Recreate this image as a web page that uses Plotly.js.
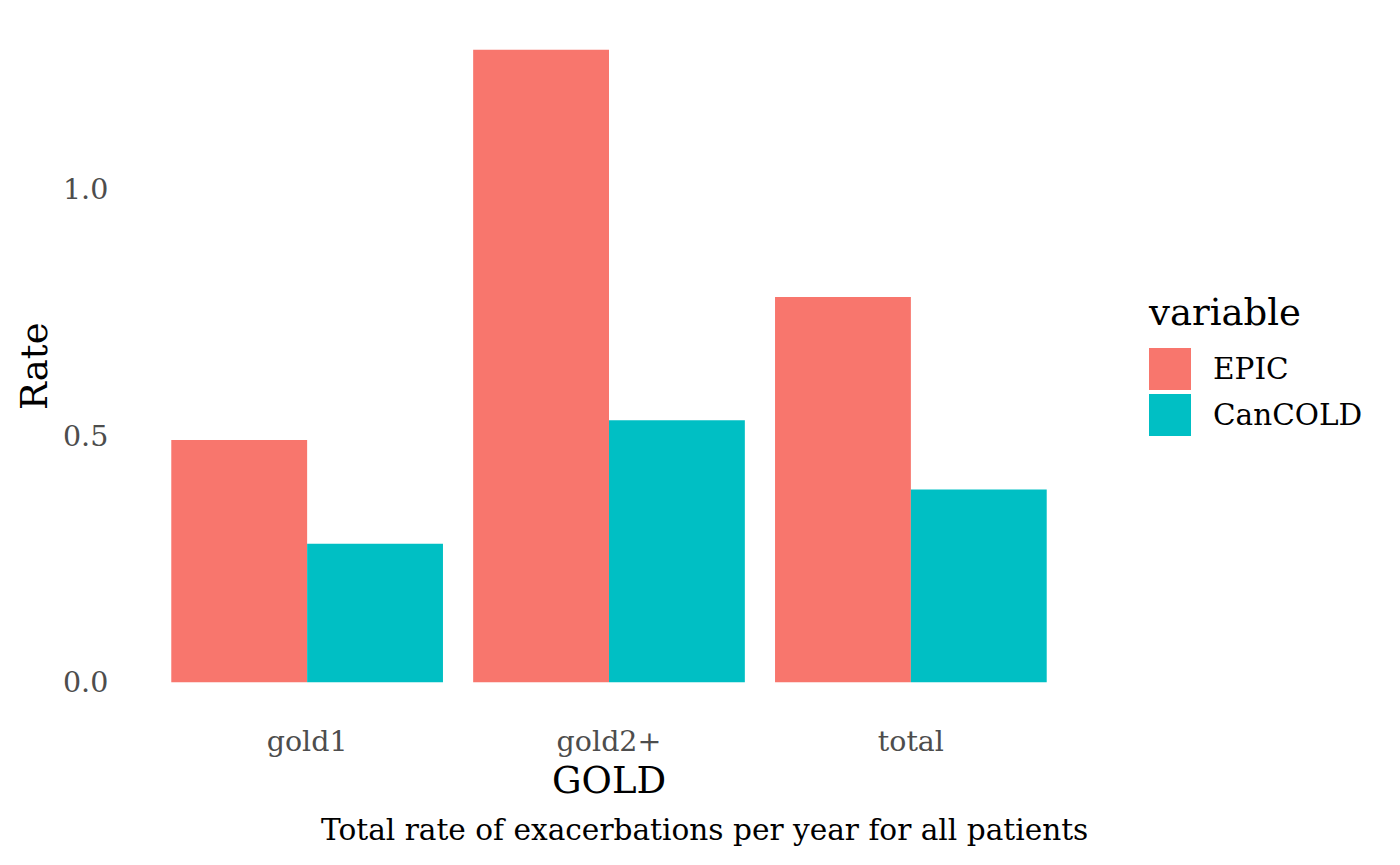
<!DOCTYPE html>
<html>
<head>
<meta charset="utf-8">
<script src="https://cdn.plot.ly/plotly-3.0.1.min.js"></script>
<style>html,body{margin:0;padding:0;background:#fff;}</style>
</head>
<body>
<div id="chart" style="width:1400px;height:865px;"></div>
<script>
// ---- data ----
const categories = ["gold1", "gold2+", "total"];
const seriesNames = ["EPIC", "CanCOLD"];
const epicValues = [0.491, 1.282, 0.781];
const cancoldValues = [0.281, 0.531, 0.391];
const seriesColors = ["#F8766D", "#00BFC4"];
const yTickVals = [0, 0.5, 1.0];
const xTitle = "GOLD";
const yTitle = "Rate";
const legendTitle = "variable";
const caption = "Total rate of exacerbations per year for all patients";

// ---- layout geometry (pixels) ----
const W = 1400, H = 865;
const L = 126, R = 1092, T = 18, B = 714;
const FONT = "DejaVu Serif, serif";
const pxX = px => (px - L) / (R - L);
const pxY = py => (B - py) / (B - T);

const seriesValues = [epicValues, cancoldValues];
const traces = seriesNames.map((name, i) => ({
  type: "bar",
  name: name,
  x: categories,
  y: seriesValues[i],
  marker: { color: seriesColors[i], line: { width: 0 } },
  showlegend: false,
  hoverinfo: "x+y+name"
}));

const maxVal = Math.max(...epicValues, ...cancoldValues);
const yRange = [-0.05 * maxVal, 1.05 * maxVal];

const shapes = [];
const annotations = [];

// manual legend (ggplot-like large keys)
annotations.push({
  xref: "paper", yref: "paper", x: pxX(1146), y: pxY(312),
  xanchor: "left", yanchor: "middle", showarrow: false,
  text: legendTitle, font: { family: FONT, size: 37, color: "#000" }
});
seriesNames.forEach((name, i) => {
  const top = 348 + i * 46, bot = top + 42;
  shapes.push({
    type: "rect", xref: "paper", yref: "paper",
    x0: pxX(1149), x1: pxX(1191), y0: pxY(bot), y1: pxY(top),
    fillcolor: seriesColors[i], line: { width: 0 }
  });
  annotations.push({
    xref: "paper", yref: "paper", x: pxX(1211), y: pxY((top + bot) / 2),
    xanchor: "left", yanchor: "middle", showarrow: false,
    text: name, font: { family: FONT, size: 29.5, color: "#000" }
  });
});

// axis titles & caption
annotations.push({
  xref: "paper", yref: "paper", x: 0.5, y: pxY(780),
  xanchor: "center", yanchor: "middle", showarrow: false,
  text: xTitle, font: { family: FONT, size: 37, color: "#000" }
});
annotations.push({
  xref: "paper", yref: "paper", x: pxX(34), y: 0.5,
  xanchor: "center", yanchor: "middle", showarrow: false, textangle: -90,
  text: yTitle, font: { family: FONT, size: 37, color: "#000" }
});
annotations.push({
  xref: "paper", yref: "paper", x: pxX(704), y: pxY(830),
  xanchor: "center", yanchor: "middle", showarrow: false,
  text: caption, font: { family: FONT, size: 29.6, color: "#000" }
});

const layout = {
  width: W, height: H, autosize: false,
  margin: { l: L, r: W - R, t: T, b: H - B, pad: 0 },
  paper_bgcolor: "#fff", plot_bgcolor: "#fff",
  barmode: "group", bargap: 0.1, bargroupgap: 0,
  font: { family: FONT },
  showlegend: false,
  xaxis: {
    type: "category", range: [-0.6, 2.6],
    showgrid: false, zeroline: false, showline: false,
    ticks: "outside", ticklen: 2, tickcolor: "rgba(0,0,0,0)",
    tickfont: { family: FONT, size: 28.5, color: "#4D4D4D" },
    fixedrange: true
  },
  yaxis: {
    range: yRange, tickvals: yTickVals, tickformat: ".1f",
    showgrid: false, zeroline: false, showline: false,
    ticks: "outside", ticklen: 11, tickcolor: "rgba(0,0,0,0)",
    tickfont: { family: FONT, size: 28.5, color: "#4D4D4D" },
    fixedrange: true
  },
  shapes: shapes,
  annotations: annotations
};

Plotly.newPlot("chart", traces, layout, { displayModeBar: false, staticPlot: true });
</script>
</body>
</html>
